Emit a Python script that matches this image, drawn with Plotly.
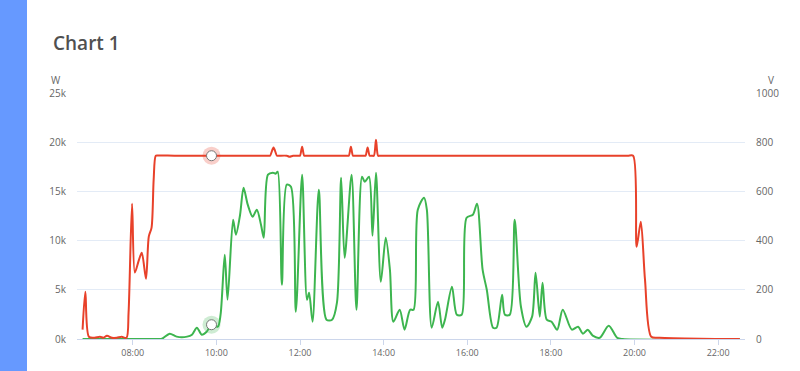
import plotly.graph_objects as go

DAY = "2024-01-01 "

# Power (W, left axis) - green
power_times = ["06:48","08:32","08:42","08:53","09:03","09:18","09:25","09:32","09:39","09:46","09:53",
               "10:02","10:06","10:12","10:16","10:24","10:28","10:34","10:39","10:45","10:52","10:58",
               "11:04","11:08","11:14","11:21","11:25","11:28","11:34","11:41","11:47","11:54",
               "12:03","12:10","12:13","12:18","12:27","12:38","12:46","12:53","12:59",
               "13:04","13:14","13:21","13:29","13:33","13:39","13:44","13:49","13:56",
               "14:03","14:09","14:14","14:23","14:30","14:38","14:43","14:49","14:58",
               "15:02","15:09","15:18","15:24","15:28","15:38","15:45","15:52","15:59",
               "16:08","16:14","16:22","16:28","16:37","16:42","16:50","16:54",
               "17:01","17:08","17:17","17:25","17:33","17:38","17:44","17:48","17:54",
               "18:01","18:09","18:17","18:30","18:39","18:46","18:53",
               "19:00","19:10","19:23","19:35","19:43","22:31"]
power_w = [0,0,30,540,240,240,440,1150,440,740,1450,
           1250,2470,8570,4000,12130,10600,12630,15370,13650,12430,13140,
           11610,10290,16700,16900,16800,17000,5520,15680,15470,2770,
           16700,4000,4700,1760,15170,1960,1960,3690,16390,
           8260,16700,2980,16490,15980,16490,10500,16900,5820,
           10290,7040,1760,2980,950,2980,2980,13140,14360,
           13140,1150,3790,1150,1960,5310,2470,2470,12320,
           12630,13750,7040,5010,1150,1150,4500,2470,
           2470,12130,3280,1250,2270,6730,2270,5720,1960,
           1760,950,2980,950,1250,540,950,
           340,130,1350,130,0,0]

# Voltage (V, right axis) - red
volt_times = ["06:48","06:52","06:57","07:05","07:13","07:18","07:23","07:30","07:37","07:44","07:51",
              "07:54","07:59","08:03","08:09","08:13","08:19","08:23","08:27","08:30","08:33","08:36",
              "09:00","09:30","10:00","10:30","11:00",
              "11:14","11:17","11:22","11:27","11:30","11:41","11:45","11:50","11:58","12:00","12:03","12:06","12:09",
              "12:30","13:00",
              "13:07","13:10","13:13","13:16","13:19","13:32","13:34","13:37","13:40","13:43","13:46","13:49","13:52","13:55",
              "14:30","15:00","16:00","17:00","18:00","19:00",
              "19:50","19:58","20:03","20:09","20:15","20:24","20:36","21:34","22:31"]
volt_v = [38,192,9,5,9,5,13,5,5,9,5,
          107,550,270,323,351,245,416,453,648,745,746,
          745,745,745,745,745,
          745,745,778,745,745,745,741,745,745,745,782,745,745,
          745,745,
          745,745,782,745,745,745,745,778,745,745,745,810,745,745,
          745,745,745,745,745,745,
          745,745,375,477,241,9,5,1,0]

hover_time = "09:53"
hover_w = 1450
hover_v = 745

left_ticks = [0, 5000, 10000, 15000, 20000, 25000]
left_labels = ["0k", "5k", "10k", "15k", "20k", "25k"]
right_ticks = [0, 200, 400, 600, 800, 1000]
x_ticks = ["08:00", "10:00", "12:00", "14:00", "16:00", "18:00", "20:00", "22:00"]

GREEN = "#3db54f"
RED = "#e8412a"

fig = go.Figure()
fig.add_trace(go.Scatter(x=[DAY + t for t in power_times], y=power_w, mode="lines",
                         line=dict(color=GREEN, width=2, shape="spline", smoothing=0.8),
                         yaxis="y", hoverinfo="skip", showlegend=False))
fig.add_trace(go.Scatter(x=[DAY + t for t in volt_times], y=volt_v, mode="lines",
                         line=dict(color=RED, width=2, shape="spline", smoothing=0.8),
                         yaxis="y2", hoverinfo="skip", showlegend=False))
# hover markers (halo + hollow circle)
fig.add_trace(go.Scatter(x=[DAY + hover_time], y=[hover_w], mode="markers", yaxis="y",
                         marker=dict(size=18, color="rgba(61,181,79,0.25)", line=dict(width=0)),
                         hoverinfo="skip", showlegend=False))
fig.add_trace(go.Scatter(x=[DAY + hover_time], y=[hover_w], mode="markers", yaxis="y",
                         marker=dict(size=10, color="white", line=dict(width=1, color="#777")),
                         hoverinfo="skip", showlegend=False))
fig.add_trace(go.Scatter(x=[DAY + hover_time], y=[hover_v], mode="markers", yaxis="y2",
                         marker=dict(size=18, color="rgba(232,65,42,0.25)", line=dict(width=0)),
                         hoverinfo="skip", showlegend=False))
fig.add_trace(go.Scatter(x=[DAY + hover_time], y=[hover_v], mode="markers", yaxis="y2",
                         marker=dict(size=10, color="white", line=dict(width=1, color="#777")),
                         hoverinfo="skip", showlegend=False))

L, R, T, B = 77, 55, 93, 32
PW, PH = 800 - L - R, 371 - T - B

def px_x(p):
    return (p - L) / PW

def px_y(p):
    return (371 - B - p) / PH

fig.update_layout(
    width=800, height=371,
    margin=dict(l=L, r=R, t=T, b=B, pad=0),
    paper_bgcolor="white", plot_bgcolor="white",
    font=dict(family="Open Sans, sans-serif", color="#666"),
    title=dict(text="Chart 1", x=53 / 800, xanchor="left", xref="container",
               y=1 - 43 / 371, yanchor="middle", yref="container",
               font=dict(size=19, color="#505050", family="Open Sans, sans-serif", weight=600)),
    xaxis=dict(type="date", range=[DAY + "06:40", DAY + "22:38:30"],
               tickvals=[DAY + t for t in x_ticks], ticktext=x_ticks,
               showgrid=False, zeroline=False, showline=True, linecolor="#ccd6eb", linewidth=1,
               ticks="outside", ticklen=5, tickcolor="#ccd6eb",
               tickfont=dict(size=9, color="#666")),
    yaxis=dict(range=[0, 25000], tickvals=left_ticks, ticktext=left_labels,
               showgrid=True, gridcolor="#e3ebf6", gridwidth=1, zeroline=False, showline=False,
               ticks="", ticklabelstandoff=10, tickfont=dict(size=10, color="#666")),
    yaxis2=dict(range=[0, 1000], tickvals=right_ticks, overlaying="y", side="right",
                showgrid=False, zeroline=False, showline=False,
                ticks="", ticklabelstandoff=10, tickfont=dict(size=10, color="#666")),
    shapes=[dict(type="rect", xref="paper", yref="paper",
                 x0=px_x(0), x1=px_x(27), y0=px_y(371), y1=px_y(0),
                 fillcolor="#6699ff", line=dict(width=0), layer="below")],
    annotations=[
        dict(text="W", xref="paper", yref="paper", x=px_x(56), y=px_y(80),
             showarrow=False, font=dict(size=10, color="#666"), xanchor="center", yanchor="middle"),
        dict(text="V", xref="paper", yref="paper", x=px_x(771), y=px_y(80),
             showarrow=False, font=dict(size=10, color="#666"), xanchor="center", yanchor="middle"),
    ],
)

fig.write_html("out.html", config={"displayModeBar": False},
               post_script="document.body.style.margin='0';")
